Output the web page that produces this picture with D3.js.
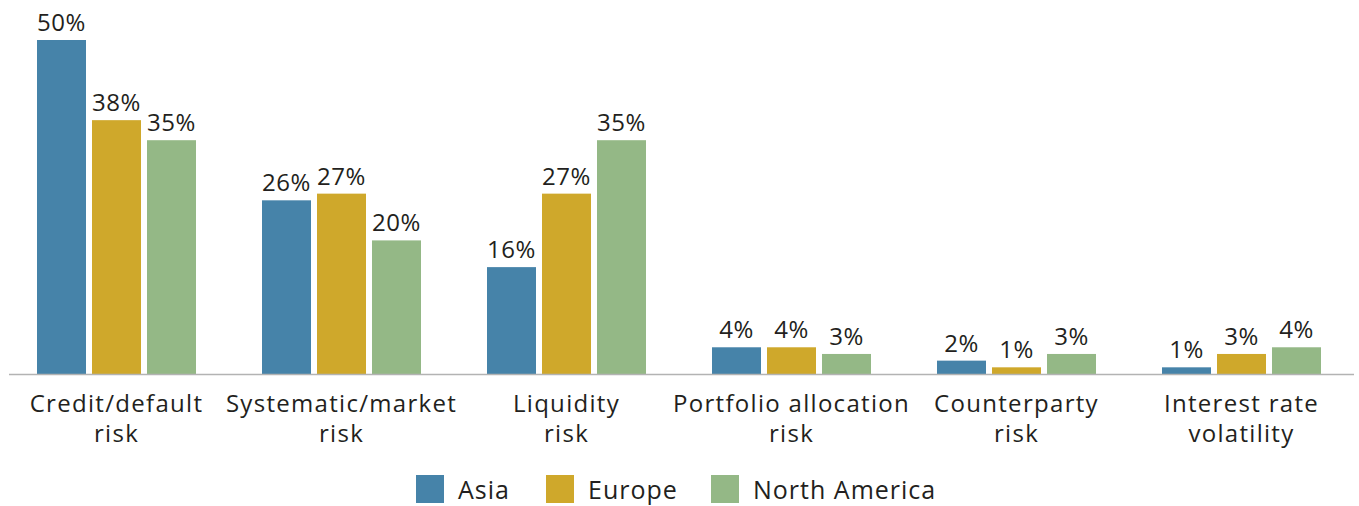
<!DOCTYPE html>
<html>
<head>
<meta charset="utf-8">
<script src="https://cdn.jsdelivr.net/npm/d3@7"></script>
<style>
  html, body { margin: 0; padding: 0; background: #fff; }
  svg { display: block; }
  text { font-family: "Open Sans", sans-serif; fill: #231f20; }
</style>
</head>
<body>
<svg id="chart" width="1359" height="506"></svg>
<script>
const categories = [
  ["Credit/default", "risk"],
  ["Systematic/market", "risk"],
  ["Liquidity", "risk"],
  ["Portfolio allocation", "risk"],
  ["Counterparty", "risk"],
  ["Interest rate", "volatility"]
];
const seriesNames = ["Asia", "Europe", "North America"];
const asia = [50, 26, 16, 4, 2, 1];
const europe = [38, 27, 27, 4, 1, 3];
const northAmerica = [35, 20, 35, 3, 3, 4];
const colors = ["#4683a9", "#cfa82b", "#94b886"];

const series = [asia, europe, northAmerica];
const svg = d3.select("#chart");

const catKeys = categories.map(c => c.join(" "));
const x0 = d3.scaleBand().domain(catKeys).range([4, 1354]).padding(0);
const x1 = d3.scaleBand().domain(seriesNames).range([0, 159]).paddingInner(6 / 55).paddingOuter(0);
const y = d3.scaleLinear().domain([0, 50]).range([374, 40]);
const color = d3.scaleOrdinal().domain(seriesNames).range(colors);

const groups = svg.append("g").selectAll("g")
  .data(catKeys)
  .join("g")
  .attr("transform", d => `translate(${x0(d) + x0.bandwidth() / 2 - 79.5},0)`);

groups.selectAll("rect")
  .data((d, i) => seriesNames.map((s, j) => ({ s, v: series[j][i] })))
  .join("rect")
  .attr("x", d => x1(d.s))
  .attr("width", x1.bandwidth())
  .attr("y", d => y(d.v))
  .attr("height", d => y(0) - y(d.v))
  .attr("fill", d => color(d.s));

groups.selectAll("text.val")
  .data((d, i) => seriesNames.map((s, j) => ({ s, v: series[j][i] })))
  .join("text")
  .attr("class", "val")
  .attr("x", d => x1(d.s) + x1.bandwidth() / 2)
  .attr("y", d => y(d.v) - 9)
  .attr("text-anchor", "middle")
  .style("font-size", "24px")
  .style("letter-spacing", "0.5px")
  .text(d => d.v + "%");

// baseline
svg.append("line")
  .attr("x1", 9).attr("x2", 1354)
  .attr("y1", y(0) + 0.5).attr("y2", y(0) + 0.5)
  .attr("stroke", "#b3b3b3").attr("stroke-width", 1.5);

// category labels (each line its own text element)
const xAxis = svg.append("g");
categories.forEach((lines, i) => {
  const cx = x0(catKeys[i]) + x0.bandwidth() / 2;
  lines.forEach((ln, k) => {
    xAxis.append("text")
      .attr("x", cx)
      .attr("y", 412 + k * 30)
      .attr("text-anchor", "middle")
      .style("font-size", "24px")
      .style("letter-spacing", "1.3px")
      .text(ln);
  });
});

// legend
const legendX = [416, 546, 711];
const legend = svg.append("g");
seriesNames.forEach((s, i) => {
  legend.append("rect")
    .attr("x", legendX[i]).attr("y", 475)
    .attr("width", 28).attr("height", 28)
    .attr("fill", color(s));
  legend.append("text")
    .attr("x", legendX[i] + 42).attr("y", 499)
    .style("font-size", "25px")
    .style("letter-spacing", "1px")
    .text(s);
});
</script>
</body>
</html>
